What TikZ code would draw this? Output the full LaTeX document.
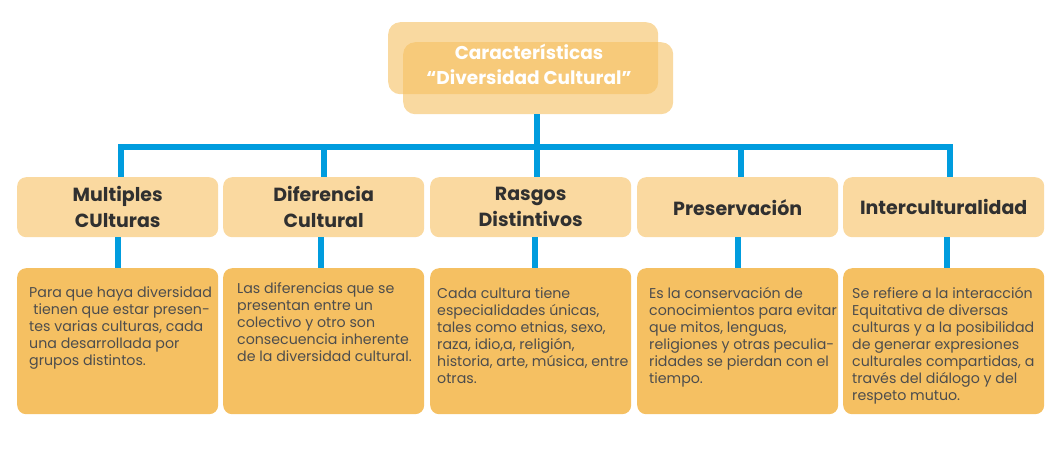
\documentclass[tikz,border=0pt]{standalone}
\usepackage{fontspec}
\setmainfont{Poppins}
\usetikzlibrary{calc}
\definecolor{hdr}{HTML}{FAD9A0}
\definecolor{bod}{HTML}{F5C062}
\definecolor{ttl}{HTML}{F5C061}
\definecolor{lnk}{HTML}{009CDE}
\definecolor{txt}{HTML}{4D4D4D}
\definecolor{htx}{HTML}{303030}
\begin{document}
\begin{tikzpicture}[x=1pt,y=-1pt,
 hdrbox/.style={fill=hdr, rounded corners=9pt, minimum width=201pt, minimum height=60pt, anchor=north west, inner sep=0pt, font=\bfseries\fontsize{19}{26}\selectfont, text=htx, align=center},
 bodbox/.style={fill=bod, rounded corners=9pt, minimum width=201pt, minimum height=146pt, anchor=north west, inner sep=0pt},
 bodtext/.style={anchor=north west, inner sep=0pt, text=txt, font=\fontsize{14.2}{17}\selectfont, align=left},
 ttlbox/.style={fill=ttl, fill opacity=0.6, rounded corners=12pt, minimum width=270pt, minimum height=72pt, anchor=north west, inner sep=0pt},
 link/.style={draw=lnk, line width=6pt}
]
\useasboundingbox (0,0) rectangle (1061,456);
% title
\node[ttlbox] (tback) at (388,22) {};
\node[ttlbox] (tfront) at (403,42) {};
\node[text=white, font=\bfseries\fontsize{18.5}{25}\selectfont, align=center, inner sep=0pt] (title) at (529,64) {Características\\“Diversidad Cultural”};
% headers
\node[hdrbox] (h1) at (17,177) {Multiples\\CUlturas};
\node[hdrbox] (h2) at (223,177) {Diferencia\\Cultural};
\node[hdrbox] (h3) at (430,177) {Rasgos\\Distintivos};
\node[hdrbox] (h4) at (637,177) {Preservación};
\node[hdrbox] (h5) at (843,177) {Interculturalidad};
% bodies
\node[bodbox] (b1) at (17,268) {};
\node[bodbox] (b2) at (223,268) {};
\node[bodbox] (b3) at (430,268) {};
\node[bodbox] (b4) at (637,268) {};
\node[bodbox] (b5) at (843,268) {};
\node[bodtext] (t1) at (29,285.5) {\strut Para que haya diversidad\\\hspace{0.3em}tienen que estar presen-\\tes varias culturas, cada\\una desarrollada por\\grupos distintos.};
\node[bodtext] (t2) at (237,281.5) {\strut Las diferencias que se\\presentan entre un\\colectivo y otro son\\consecuencia inherente\\de la diversidad cultural.};
\node[bodtext] (t3) at (437,286) {\strut Cada cultura tiene\\especialidades únicas,\\tales como etnias, sexo,\\raza, idio,a, religión,\\historia, arte, música, entre\\otras.};
\node[bodtext] (t4) at (649,286) {\strut Es la conservación de\\conocimientos para evitar\\que mitos, lenguas,\\religiones y otras peculia-\\ridades se pierdan con el\\tiempo.};
\node[bodtext] (t5) at (852,286) {\strut Se refiere a la interacción\\Equitativa de diversas\\culturas y a la posibilidad\\de generar expresiones\\culturales compartidas, a\\través del diálogo y del\\respeto mutuo.};
% connectors
\coordinate (hub) at (537,147);
\coordinate (barL) at (118,147);
\coordinate (barR) at (953,147);
\coordinate (d1) at (121,147);
\coordinate (d2) at (324,147);
\coordinate (d3) at (537,147);
\coordinate (d4) at (741,147);
\coordinate (d5) at (950,147);
\draw[link] (hub |- tfront.south) -- (hub);
\draw[link] (barL) -- (barR);
\foreach \i in {1,...,5} {\draw[link] (d\i) -- (d\i |- h\i.north);}
\draw[link] ([xshift=0.5pt]h1.south) -- ([xshift=0.5pt]h1.south |- b1.north);
\draw[link] ([xshift=-3pt]h2.south) -- ([xshift=-3pt]h2.south |- b2.north);
\draw[link] ([xshift=4pt]h3.south) -- ([xshift=4pt]h3.south |- b3.north);
\draw[link] ([xshift=0.5pt]h4.south) -- ([xshift=0.5pt]h4.south |- b4.north);
\draw[link] ([xshift=3pt]h5.south) -- ([xshift=3pt]h5.south |- b5.north);
\end{tikzpicture}
\end{document}
